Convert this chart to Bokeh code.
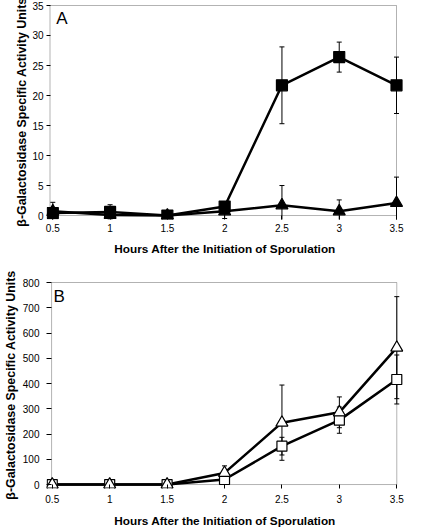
from bokeh.plotting import figure
from bokeh.layouts import column
from bokeh.models import (Range1d, FixedTicker, Whisker, TeeHead,
                          ColumnDataSource, Label, BoxAnnotation)
from bokeh.embed import file_html
from bokeh.resources import INLINE

# ---------------- data ----------------
HOURS = [0.5, 1, 1.5, 2, 2.5, 3, 3.5]
HOUR_LABELS = ["0.5", "1", "1.5", "2", "2.5", "3", "3.5"]

A_SQUARE = [0.4, 0.6, 0.0, 1.5, 21.7, 26.4, 21.7]
A_SQUARE_ERR = [1.8, 1.2, 0.2, 0.8, 6.4, 2.5, 4.7]
A_TRIANGLE = [0.7, 0.1, 0.0, 0.7, 1.7, 0.7, 2.1]
A_TRIANGLE_ERR = [0.5, 0.3, 0.1, 1.2, 3.3, 1.9, 4.3]
A_YTICKS = [0, 5, 10, 15, 20, 25, 30, 35]

B_SQUARE = [0, 0, 0, 20, 152, 255, 416]
B_SQUARE_ERR = [0, 0, 0, 5, 35, 52, 97]
B_TRIANGLE = [0, 0, 0, 46, 245, 286, 542]
B_TRIANGLE_ERR = [0, 0, 0, 28, 149, 61, 202]
B_YTICKS = [0, 100, 200, 300, 400, 500, 600, 700, 800]

X_LABEL = "Hours After the Initiation of Sporulation"
Y_LABEL = "\u03b2-Galactosidase Specific Activity Units"

FONT = "Liberation Sans"


def panel(tag, sq, sq_err, tri, tri_err, yticks, filled, g):
    ymax = yticks[-1]
    p = figure(width=g["width"], height=g["height"],
               x_range=Range1d(g["x0"], g["x1"]),
               y_range=Range1d(g["y0"], g["y1"]),
               output_backend="svg", toolbar_location=None,
               min_border_left=g["bl"], min_border_right=g["br"],
               min_border_top=g["bt"], min_border_bottom=g["bb"])
    p.outline_line_color = None
    p.grid.visible = False
    p.background_fill_color = "white"
    p.border_fill_color = "white"

    # frame of the chart (Excel-like box)
    p.add_layout(BoxAnnotation(left=g["xa"], right=HOURS[-1], bottom=0, top=ymax,
                               fill_color=None, line_color="black",
                               line_width=1, level="underlay"))

    xax = p.xaxis[0]
    xax.ticker = FixedTicker(ticks=HOURS)
    xax.major_label_overrides = {h: l for h, l in zip(HOURS, HOUR_LABELS)}
    xax.axis_label = X_LABEL
    xax.axis_line_color = None
    xax.major_tick_line_color = "black"
    xax.major_tick_in = g["xtin"]
    xax.major_tick_out = 0
    xax.minor_tick_line_color = None
    xax.major_label_standoff = g["xs"]
    xax.axis_label_standoff = g["xa_s"]
    xax.major_label_text_font = FONT
    xax.major_label_text_font_size = "10px"
    xax.major_label_text_color = "black"
    xax.axis_label_text_font = FONT
    xax.axis_label_text_font_style = "bold"
    xax.axis_label_text_font_size = "11.8px"
    xax.axis_label_text_color = "black"

    yax = p.yaxis[0]
    yax.ticker = FixedTicker(ticks=yticks)
    yax.axis_label = Y_LABEL
    yax.axis_line_color = None
    yax.major_tick_line_color = "black"
    yax.major_tick_in = g["ytin"]
    yax.major_tick_out = 0
    yax.minor_tick_line_color = None
    yax.major_label_standoff = g["ys"]
    yax.axis_label_standoff = g["ya_s"]
    yax.major_label_text_font = FONT
    yax.major_label_text_font_size = "10px"
    yax.major_label_text_color = "black"
    yax.axis_label_text_font = FONT
    yax.axis_label_text_font_style = "bold"
    yax.axis_label_text_font_size = "12.4px"
    yax.axis_label_text_color = "black"

    # error bars
    for vals, errs in ((sq, sq_err), (tri, tri_err)):
        src = ColumnDataSource(dict(x=HOURS,
                                    upper=[v + e for v, e in zip(vals, errs)],
                                    lower=[v - e for v, e in zip(vals, errs)]))
        p.add_layout(Whisker(source=src, base="x", upper="upper", lower="lower",
                             dimension="height", line_color="black", line_width=1,
                             level="underlay",
                             upper_head=TeeHead(size=5, line_color="black", line_width=1),
                             lower_head=TeeHead(size=5, line_color="black", line_width=1)))

    fill = "black" if filled else "white"
    p.line(HOURS, sq, line_color="black", line_width=2.5)
    p.line(HOURS, tri, line_color="black", line_width=2.5)
    p.scatter(HOURS, sq, marker="square", size=g["ms"], fill_color=fill,
              line_color="black", line_width=1.2)
    p.scatter(HOURS, tri, marker="triangle", size=g["mt"], fill_color=fill,
              line_color="black", line_width=1.2)

    p.add_layout(Label(x=g["tag_x"], y=g["tag_y"], text=tag,
                       text_font=FONT, text_font_size="17px",
                       text_color="black", text_align="center",
                       text_baseline="middle"))
    return p


geoA = dict(width=421, height=258, x0=0.445, x1=3.561, xa=0.4756,
            y0=-0.663, y1=35.166,
            bl=46, br=18, bt=4, bb=38,
            xtin=4, xs=4, xa_s=7, ytin=4, ys=3, ya_s=0, ms=11, mt=12,
            tag_x=0.58, tag_y=32.8)
geoB = dict(width=421, height=272, x0=0.4499, x1=3.5585, xa=0.4942,
            y0=-15.7, y1=804,
            bl=44, br=5, bt=23, bb=40,
            xtin=4, xs=6, xa_s=8, ytin=5, ys=7, ya_s=2, ms=10, mt=12,
            tag_x=0.56, tag_y=744)

pA = panel("A", A_SQUARE, A_SQUARE_ERR, A_TRIANGLE, A_TRIANGLE_ERR,
           A_YTICKS, True, geoA)
pB = panel("B", B_SQUARE, B_SQUARE_ERR, B_TRIANGLE, B_TRIANGLE_ERR,
           B_YTICKS, False, geoB)

layout = column(pA, pB, spacing=0)
open("out.html", "w").write(file_html(layout, INLINE))
